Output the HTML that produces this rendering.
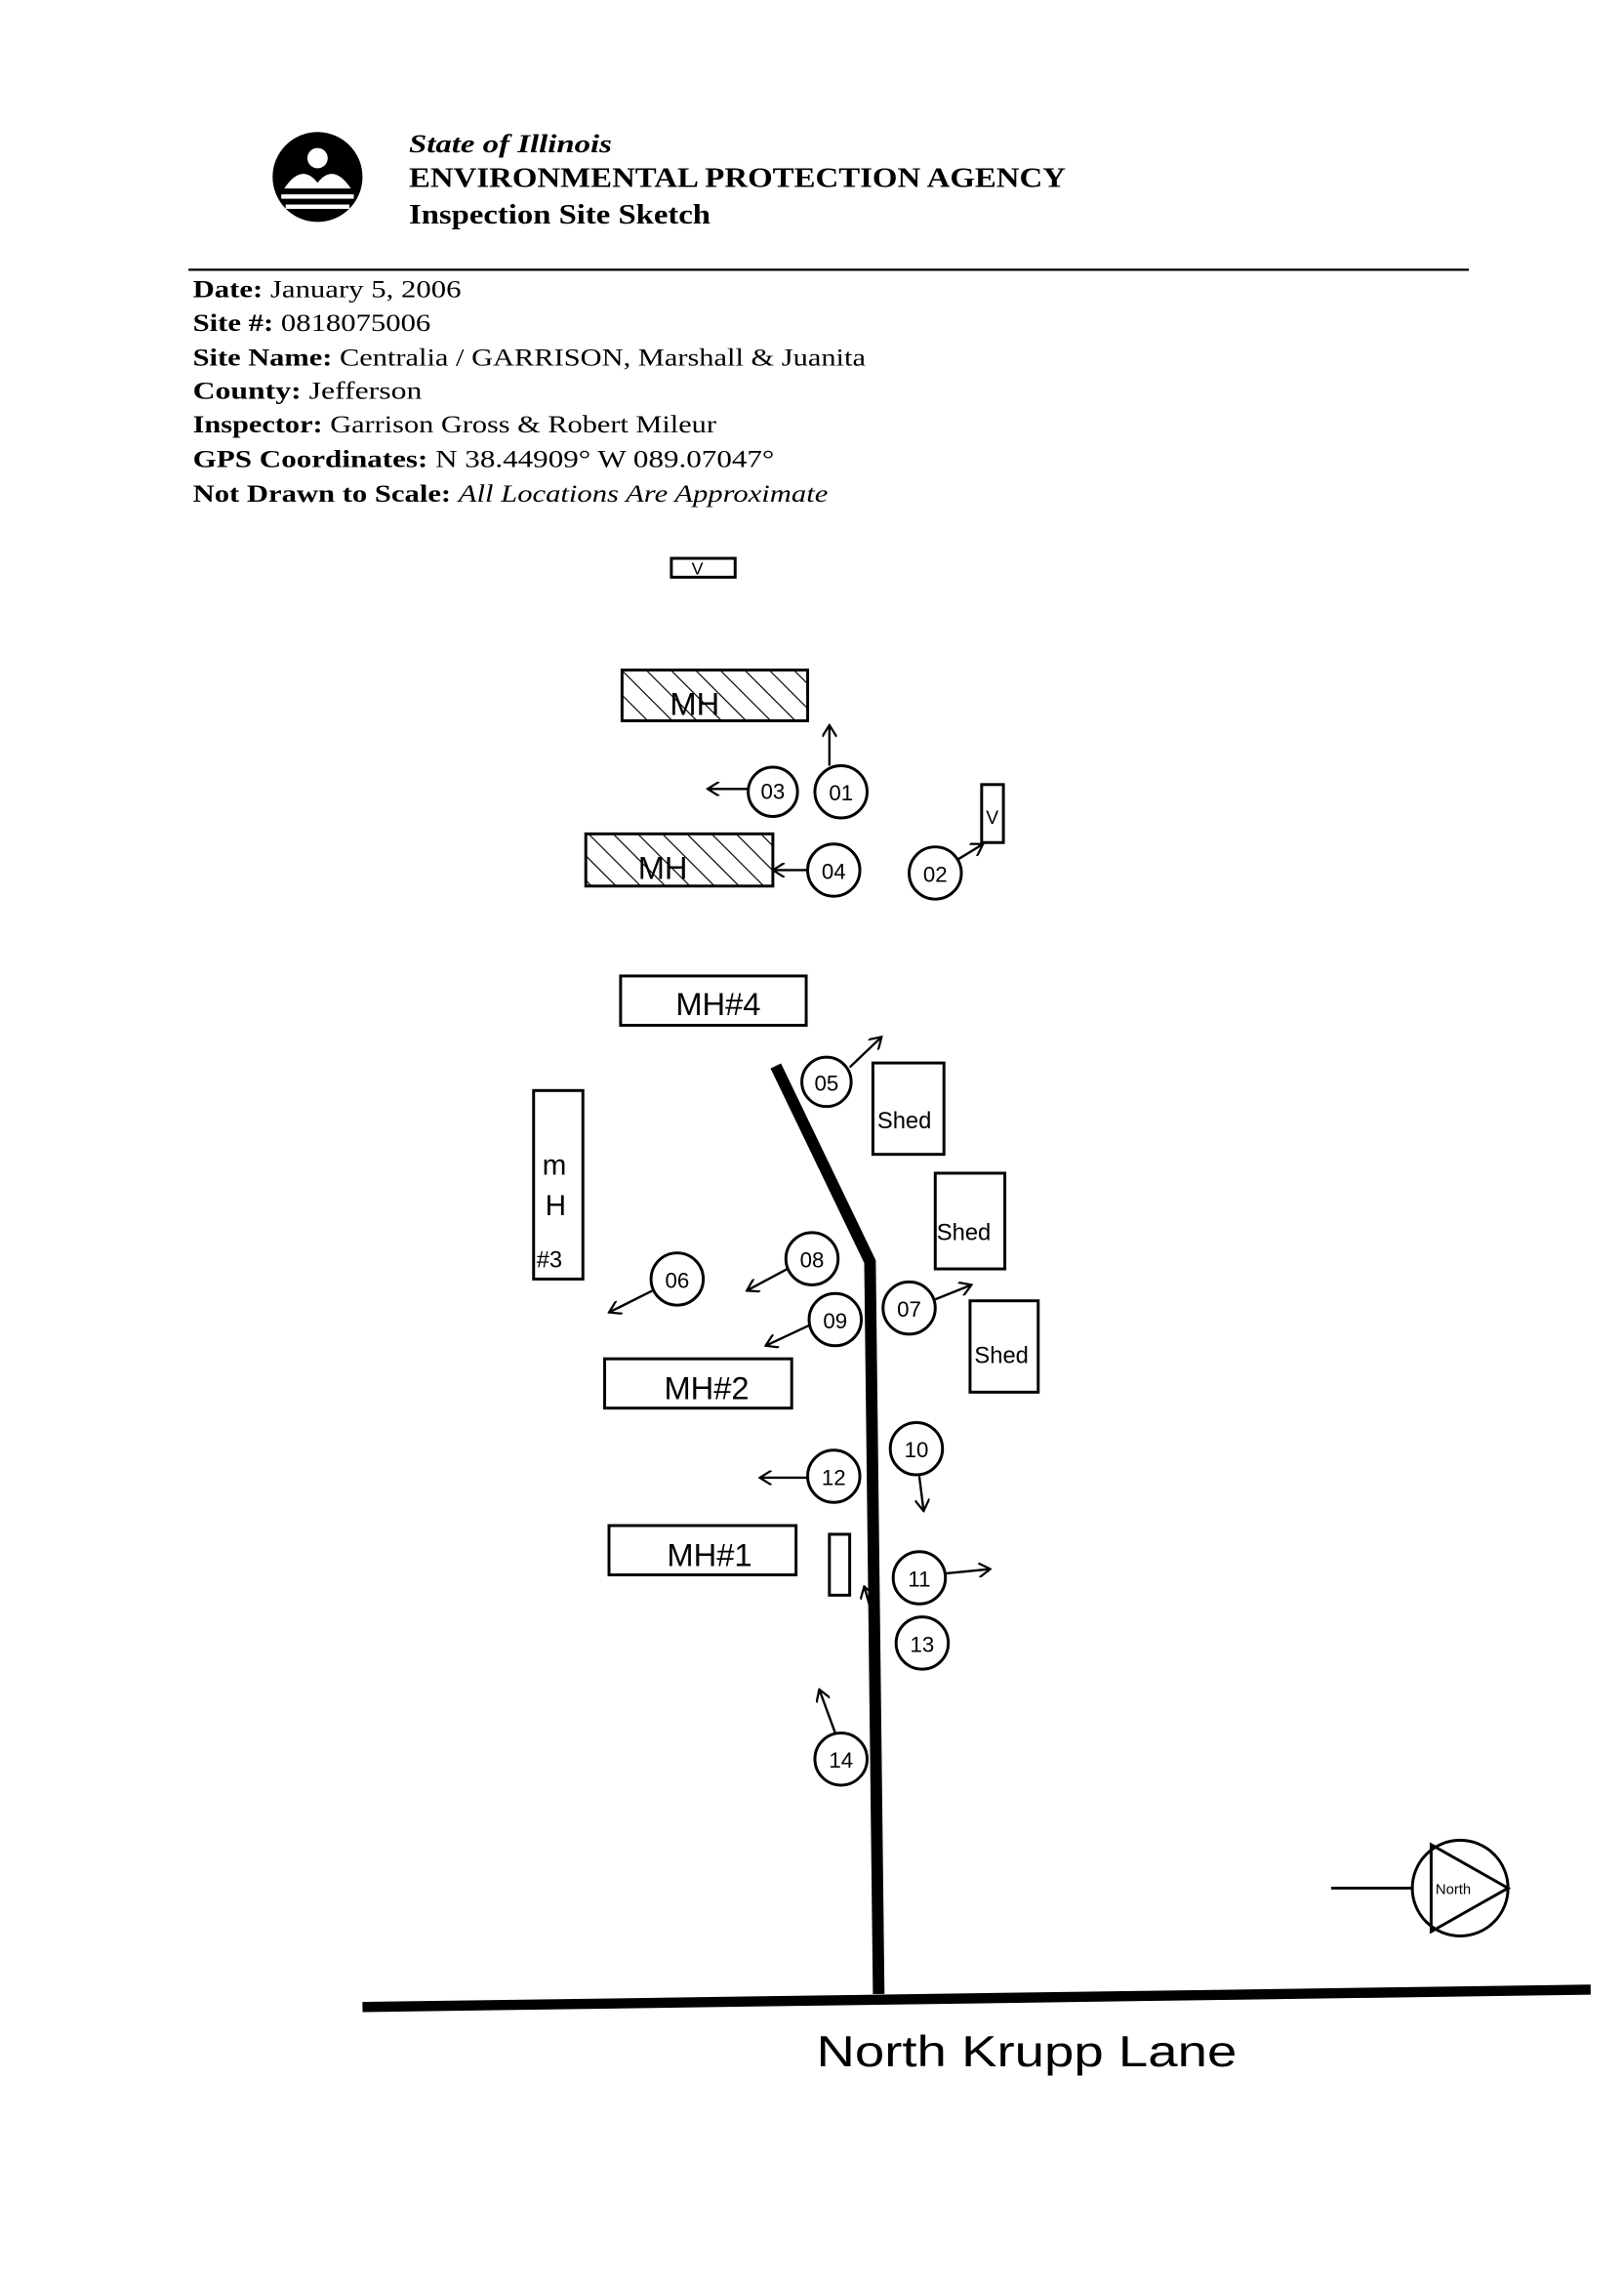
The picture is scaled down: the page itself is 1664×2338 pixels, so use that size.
<!DOCTYPE html>
<html><head><style>
html,body{margin:0;padding:0;background:#fff;}
svg{display:block;}
.h{font-family:"Liberation Serif",serif;fill:#000;}
.hw{font-family:"Liberation Sans",sans-serif;fill:#000;}
</style></head><body>
<svg width="1664" height="2338" viewBox="0 0 1120 1573.6" xmlns="http://www.w3.org/2000/svg">
<defs>
<pattern id="hatch" width="12" height="12" patternUnits="userSpaceOnUse" patternTransform="rotate(-45)">
<line x1="0" y1="0" x2="0" y2="12" stroke="#000" stroke-width="1.6"/>
</pattern>
<marker id="ah" markerWidth="10" markerHeight="10" refX="9" refY="5" orient="auto" markerUnits="userSpaceOnUse">
<path d="M1,0 L9,5 L1,10" fill="none" stroke="#000" stroke-width="1.5"/>
</marker>
</defs>
<!-- logo -->
<circle cx="219" cy="122" r="31" fill="#000"/>
<path d="M196,130 Q208,112 219,126 Q230,112 242,130 Z" fill="#fff"/>
<circle cx="219" cy="109" r="7" fill="#fff"/>
<rect x="194" y="134" width="50" height="3" fill="#fff"/>
<rect x="197" y="141" width="44" height="3" fill="#fff"/>
<!-- header -->
<text class="h" x="282" y="105" font-size="18" font-style="italic" font-weight="bold" textLength="140" lengthAdjust="spacingAndGlyphs">State of Illinois</text>
<text class="h" x="282" y="129" font-size="19" font-weight="bold" textLength="453" lengthAdjust="spacingAndGlyphs">ENVIRONMENTAL PROTECTION AGENCY</text>
<text class="h" x="282" y="154" font-size="19" font-weight="bold" textLength="208" lengthAdjust="spacingAndGlyphs">Inspection Site Sketch</text>
<line x1="130" y1="186" x2="1013" y2="186" stroke="#000" stroke-width="1.5"/>
<g class="h" font-size="17">
<text x="133" y="205" textLength="185" lengthAdjust="spacingAndGlyphs"><tspan font-weight="bold">Date:</tspan> January 5, 2006</text>
<text x="133" y="228" textLength="164" lengthAdjust="spacingAndGlyphs"><tspan font-weight="bold">Site #:</tspan> 0818075006</text>
<text x="133" y="252" textLength="464" lengthAdjust="spacingAndGlyphs"><tspan font-weight="bold">Site Name:</tspan>  Centralia / GARRISON, Marshall &amp; Juanita</text>
<text x="133" y="275" textLength="158" lengthAdjust="spacingAndGlyphs"><tspan font-weight="bold">County:</tspan>  Jefferson</text>
<text x="133" y="298" textLength="361" lengthAdjust="spacingAndGlyphs"><tspan font-weight="bold">Inspector:</tspan> Garrison Gross &amp; Robert Mileur</text>
<text x="133" y="322" textLength="401" lengthAdjust="spacingAndGlyphs"><tspan font-weight="bold">GPS Coordinates:</tspan>  N 38.44909°  W 089.07047°</text>
<text x="133" y="346" textLength="438" lengthAdjust="spacingAndGlyphs"><tspan font-weight="bold">Not Drawn to Scale:</tspan>  <tspan font-style="italic">All Locations Are Approximate</tspan></text>
</g>
<!-- drawing -->
<g fill="none" stroke="#000" stroke-width="2">
<rect x="463" y="385" width="44" height="13"/>
<rect x="429" y="462" width="128" height="35" fill="url(#hatch)"/>
<rect x="404" y="575" width="129" height="36" fill="url(#hatch)"/>
<rect x="677" y="541" width="15" height="40"/>
<rect x="428" y="673" width="128" height="34"/>
<rect x="602" y="733" width="49" height="63"/>
<rect x="645" y="809" width="48" height="66"/>
<rect x="669" y="897" width="47" height="63"/>
<rect x="368" y="752" width="34" height="130"/>
<rect x="417" y="937" width="129" height="34"/>
<rect x="420" y="1052" width="129" height="34"/>
<rect x="572" y="1058" width="14" height="42"/>
<circle cx="533" cy="546" r="17"/><circle cx="580" cy="546" r="18"/>
<circle cx="645" cy="602" r="18"/><circle cx="575" cy="600" r="18"/>
<circle cx="570" cy="746" r="17"/>
<circle cx="467" cy="882" r="18"/><circle cx="560" cy="868" r="18"/>
<circle cx="576" cy="910" r="18"/><circle cx="627" cy="902" r="18"/>
<circle cx="632" cy="999" r="18"/><circle cx="575" cy="1018" r="18"/>
<circle cx="634" cy="1088" r="18"/><circle cx="636" cy="1133" r="18"/>
<circle cx="580" cy="1213" r="18"/>
<g marker-end="url(#ah)" stroke-width="1.6">
<line x1="572" y1="528" x2="572" y2="500"/>
<line x1="516" y1="544" x2="488" y2="544"/>
<line x1="660" y1="593" x2="678" y2="582"/>
<line x1="557" y1="600" x2="533" y2="600"/>
<line x1="586" y1="736" x2="608" y2="715"/>
<line x1="450" y1="890" x2="420" y2="905"/>
<line x1="543" y1="875" x2="515" y2="890"/>
<line x1="558" y1="914" x2="528" y2="928"/>
<line x1="645" y1="896" x2="670" y2="886"/>
<line x1="634" y1="1018" x2="637" y2="1042"/>
<line x1="557" y1="1019" x2="524" y2="1019"/>
<line x1="652" y1="1085" x2="683" y2="1082"/>
<line x1="576" y1="1195" x2="565" y2="1165"/>
<line x1="600" y1="1108" x2="596" y2="1094"/>
</g>
<circle cx="1007" cy="1302" r="33"/>
<line x1="918" y1="1302" x2="975" y2="1302"/>
<path d="M987,1272 L1040,1302 L987,1332 Z"/>
</g>
<path d="M535,735 L600,870 L606,1375" fill="none" stroke="#000" stroke-width="8"/>
<line x1="250" y1="1384" x2="1097" y2="1372" stroke="#000" stroke-width="7"/>
<g class="hw">
<text x="477" y="396" font-size="12">V</text>
<text x="462" y="493" font-size="22">MH</text>
<text x="440" y="606" font-size="22">MH</text>
<text x="680" y="568" font-size="13">V</text>
<text x="466" y="700" font-size="22">MH#4</text>
<text x="605" y="778" font-size="16">Shed</text>
<text x="646" y="855" font-size="16">Shed</text>
<text x="672" y="940" font-size="16">Shed</text>
<text x="374" y="810" font-size="20">m</text>
<text x="376" y="838" font-size="20">H</text>
<text x="370" y="874" font-size="16">#3</text>
<text x="458" y="965" font-size="22">MH#2</text>
<text x="460" y="1080" font-size="22">MH#1</text>
<g font-size="15" text-anchor="middle">
<text x="533" y="551">03</text><text x="580" y="552">01</text>
<text x="645" y="608">02</text><text x="575" y="606">04</text>
<text x="570" y="752">05</text><text x="467" y="888">06</text>
<text x="560" y="874">08</text><text x="576" y="916">09</text>
<text x="627" y="908">07</text><text x="632" y="1005">10</text>
<text x="575" y="1024">12</text><text x="634" y="1094">11</text>
<text x="636" y="1139">13</text><text x="580" y="1219">14</text>
</g>
<text x="990" y="1306" font-size="10">North</text>
<text x="563" y="1425" font-size="30" textLength="290" lengthAdjust="spacingAndGlyphs">North Krupp Lane</text>
</g>
</svg>
</body></html>
